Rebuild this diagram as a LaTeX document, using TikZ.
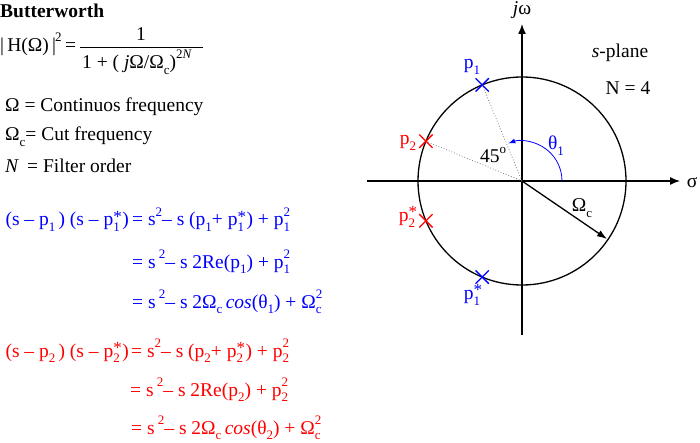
\documentclass[tikz,border=0pt]{standalone}
\usepackage{fontspec}
\setmainfont{Liberation Serif}
\usetikzlibrary{arrows.meta,shapes.misc}
\newcommand\sbs[1]{\raisebox{-0.3em}{\fontsize{13}{13}\selectfont #1}}
\newcommand\sps[1]{\raisebox{0.5em}{\fontsize{13}{13}\selectfont #1}}
\newcommand\both[2]{\rlap{\sps{#1}}\sbs{#2}}
\newcommand\stsub[1]{\rlap{\raisebox{0.2em}{\fontsize{17}{17}\selectfont *}}\sbs{#1}\hspace{2.5pt}}
\begin{document}
\begin{tikzpicture}[x=1pt,y=-1pt,
  txt/.style={inner sep=0pt, font=\fontsize{19.5}{22}\selectfont},
  bl/.style={txt, anchor=base west},
  br/.style={txt, anchor=base east},
  axisline/.style={line width=1.3pt, -{Latex[length=10pt,width=8pt]}},
  pole/.style={cross out, draw=#1, line width=1.3pt, minimum size=12pt, inner sep=0pt},
  guide/.style={gray, dotted, line width=0.8pt}]
\useasboundingbox (0,0) rectangle (700,443);
% left column
\node[bl, font=\fontsize{19.5}{22}\selectfont\bfseries] (title) at (0,18) {Butterworth};
\node[bl] (hlhs) at (0,52) {|\,H(Ω)\,|};
\node[bl, font=\fontsize{13}{13}\selectfont] (hsq) at (55,42) {2};
\node[bl] (heq) at (65,52) {=};
\node[txt, anchor=base] (num) at (141,41) {1};
\coordinate (barl) at (80,47);
\coordinate (barr) at (203,47);
\draw[line width=0.8pt] (barl) -- (barr);
\node[bl] (den) at (82,69) {1 + ( \textit{j}Ω/Ω\sbs{c})\raisebox{0.55em}{\fontsize{13}{13}\selectfont 2\textit{N}}};
\node[bl] (d1) at (5,112) {Ω = Continuos frequency};
\node[bl] (d2) at (5,141) {Ω\sbs{c}= Cut frequency};
\node[bl] (d3) at (5,173) {\textit{N}\ \,= Filter order};
% blue equations
\node[br, text=blue] (b1l) at (129,226) {(s – p\sbs{1}\,) (s – p\stsub{1})};
\node[bl, text=blue] (b1r) at (132,226) {= s\sps{2}– s (p\sbs{1}+ p\stsub{1}) + p\both{2}{1}};
\node[bl, text=blue] (b2) at (132,268) {= s\,\sps{2}– s 2Re(p\sbs{1}) + p\both{2}{1}};
\node[bl, text=blue] (b3) at (132,308) {= s\,\sps{2}– s 2Ω\sbs{c}\,\textit{cos}(θ\sbs{1}) + Ω\both{2}{c}};
% red equations
\node[br, text=red] (r1l) at (129,357) {(s – p\sbs{2}\,) (s – p\stsub{2})};
\node[bl, text=red] (r1r) at (131,357) {= s\sps{2}– s (p\sbs{2}+ p\stsub{2}) + p\both{2}{2}};
\node[bl, text=red] (r2) at (130,396) {= s\,\sps{2}– s 2Re(p\sbs{2}) + p\both{2}{2}};
\node[bl, text=red] (r3) at (131,434) {= s\,\sps{2}– s 2Ω\sbs{c}\,\textit{cos}(θ\sbs{2}) + Ω\both{2}{c}};
% s-plane
\coordinate (O) at (522,181);
\coordinate (xl) at (367,181);
\coordinate (xr) at (680,181);
\coordinate (yb) at (522,335);
\coordinate (yt) at (522,24);
\draw[line width=1.3pt] (O) circle (104);
\draw[axisline] (xl) -- (xr);
\draw[axisline] (yb) -- (yt);
\node[txt] (jw) at (522,10) {\textit{j}ω};
\node[txt] (sigma) at (692,183) {σ};
\node[txt] (splane) at (620,53) {\textit{s}-plane};
\node[txt] (nfour) at (628,88) {N = 4};
\node[pole=blue] (p1) at (482.2,84.9) {};
\node[pole=red] (p2) at (425.9,141.2) {};
\node[pole=red] (p2s) at (425.9,220.8) {};
\node[pole=blue] (p1s) at (482.2,277.1) {};
\draw[guide] (O) -- (p1.center);
\draw[guide] (O) -- (p2.center);
\draw[blue, line width=0.8pt, -{Latex[length=7pt,width=5pt]}] (O) ++(40,0) arc[start angle=0, end angle=-110, radius=40];
\coordinate (oc) at (607,239);
\draw[line width=1.3pt, -{Latex[length=10pt,width=7pt]}] (O) -- (oc);
\node[txt] (ang) at (493,155) {45\sps{o}};
\node[txt, text=blue] (theta) at (556,146) {θ\sbs{1}};
\node[txt] (omc) at (582,208) {Ω\sbs{c}};
\node[txt, text=blue] (lp1) at (472,67) {p\sbs{1}};
\node[txt, text=red] (lp2) at (408,143) {p\sbs{2}};
\node[txt, text=red] (lp2s) at (407,217) {p\stsub{2}};
\node[txt, text=blue] (lp1s) at (472,295) {p\stsub{1}};
\end{tikzpicture}
\end{document}
